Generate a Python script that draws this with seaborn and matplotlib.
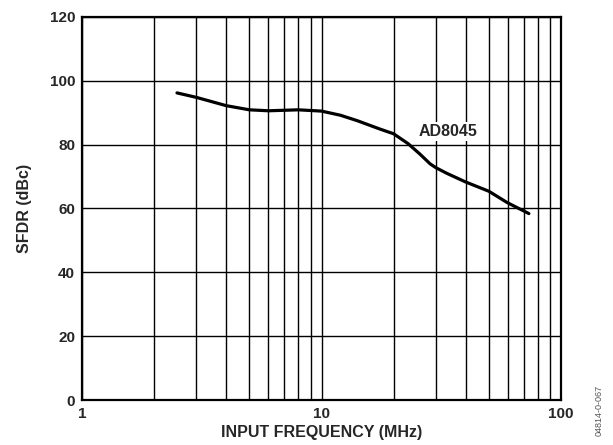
import numpy as np
import matplotlib
matplotlib.use('Agg')
import matplotlib.pyplot as plt
import seaborn as sns
import pandas as pd
from matplotlib.ticker import FixedLocator, NullFormatter

# curve (MHz, dBc)
freq_mhz = [2.49, 3.0, 4.0, 5.0, 6.0, 8.0, 10.0, 12.0, 14.1, 17.5, 20.0,
            23.0, 25.8, 28.4, 30.0, 33.4, 40.0, 50.0, 59.5, 73.5]
sfdr_dbc = [96.2, 94.8, 92.2, 90.9, 90.6, 90.9, 90.5, 89.2, 87.5, 84.9, 83.4,
            80.3, 77.0, 74.0, 72.8, 71.0, 68.3, 65.4, 61.9, 58.4]
series_name = 'AD8045'

x_ticks = [1, 10, 100]
x_ticklabels = ['1', '10', '100']
y_ticks = [0, 20, 40, 60, 80, 100, 120]

df = pd.DataFrame({'freq': freq_mhz, 'sfdr': sfdr_dbc})

sns.set_style('white')
plt.rcParams['font.family'] = ['Liberation Sans', 'DejaVu Sans']
plt.rcParams['font.weight'] = 'bold'

fig = plt.figure(figsize=(6.13, 4.45), dpi=100)
ax = fig.add_axes([0.134, 0.101, 0.781, 0.861])

sns.lineplot(data=df, x='freq', y='sfdr', ax=ax, color='black', linewidth=2.3,
             zorder=4)

ax.set_xscale('log')
ax.set_xlim(1, 100)
ax.set_ylim(0, 120)
ax.xaxis.set_major_locator(FixedLocator(x_ticks))
ax.set_xticklabels(x_ticklabels)
ax.xaxis.set_minor_locator(FixedLocator([2, 3, 4, 5, 6, 7, 8, 9,
                                         20, 30, 40, 50, 60, 70, 80, 90]))
ax.xaxis.set_minor_formatter(NullFormatter())
ax.set_yticks(y_ticks)

# grid: every decade line and every y step, all black
ax.grid(True, which='both', axis='x', color='black', linewidth=1.0)
ax.grid(True, which='major', axis='y', color='black', linewidth=1.0)
ax.set_axisbelow(True)

for spine in ax.spines.values():
    spine.set_visible(True)
    spine.set_color('black')
    spine.set_linewidth(1.6)

ax.tick_params(axis='both', which='both', length=0, labelsize=11, pad=5)
for lbl in ax.get_xticklabels() + ax.get_yticklabels():
    lbl.set_fontweight('bold')

ax.set_xlabel('INPUT FREQUENCY (MHz)', fontsize=11.5, fontweight='bold', labelpad=3)
ax.set_ylabel('SFDR (dBc)', fontsize=11.5, fontweight='bold', labelpad=13)

ax.text(33.7, 84.1, series_name, fontsize=11.5, fontweight='bold', ha='center',
        va='center', zorder=5,
        bbox=dict(facecolor='white', edgecolor='none', pad=1.5))

fig.text(0.978, 0.02, '04814-0-067', rotation=90, fontsize=6.5,
         color='#555555', fontweight='normal', ha='center', va='bottom')

fig.savefig('out.png', dpi=100)
plt.close(fig)
